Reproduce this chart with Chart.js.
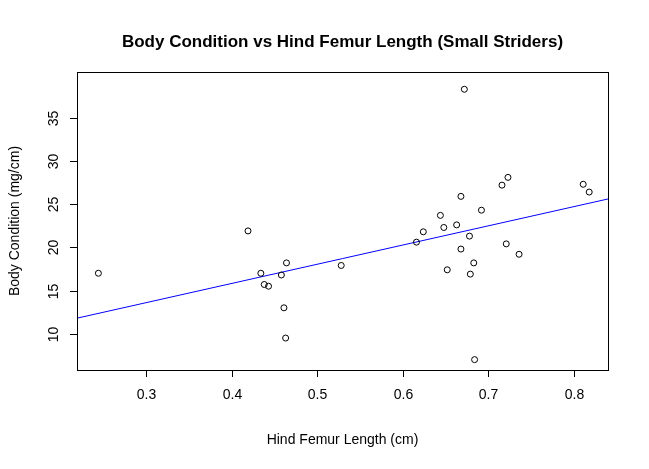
<!DOCTYPE html>
<html>
<head>
<meta charset="utf-8">
<script src="https://cdn.jsdelivr.net/npm/chart.js@4/dist/chart.umd.min.js"></script>
<style>
  html, body { margin: 0; padding: 0; background: #fff; }
  #wrap { width: 649px; height: 469px; }
</style>
</head>
<body>
<div id="wrap"><canvas id="myChart"></canvas></div>
<script>
// femur length (cm) and body condition (mg/cm)
const femurLength = [0.244, 0.419, 0.434, 0.438, 0.443, 0.458, 0.464, 0.461, 0.463, 0.528,
    0.616, 0.624, 0.644, 0.648, 0.652, 0.663, 0.668, 0.668, 0.672, 0.678,
    0.679, 0.683, 0.684, 0.692, 0.716, 0.721, 0.723, 0.736, 0.811, 0.818];
const bodyCondition = [17.0, 21.9, 17.0, 15.7, 15.5, 16.8, 18.2, 13.0, 9.5, 17.9,
    20.6, 21.8, 23.7, 22.3, 17.4, 22.6, 25.9, 19.8, 38.3, 21.3,
    16.9, 18.2, 7.0, 24.3, 27.2, 20.4, 28.1, 19.2, 27.3, 26.4];
const fitX = [0.219, 0.840];
const fitY = [11.8, 25.6];
const xTicks = [0.3, 0.4, 0.5, 0.6, 0.7, 0.8];
const yTicks = [10, 15, 20, 25, 30, 35];

const font = '14px "Liberation Sans", Arial, sans-serif';

// R-style box, ticks and labels drawn on top of the Chart.js scales
const baseGraphics = {
    id: 'baseGraphics',
    afterDraw(chart) {
        const ctx = chart.ctx;
        const a = chart.chartArea;
        const xs = chart.scales.x;
        const ys = chart.scales.y;
        ctx.save();
        ctx.strokeStyle = '#000';
        ctx.lineWidth = 1;
        ctx.strokeRect(a.left + 0.5, a.top + 0.5, a.right - a.left, a.bottom - a.top);
        ctx.fillStyle = '#000';
        ctx.font = font;

        ctx.textAlign = 'center';
        ctx.textBaseline = 'top';
        xTicks.forEach(t => {
            const px = Math.round(xs.getPixelForValue(t)) + 0.5;
            ctx.beginPath();
            ctx.moveTo(px, a.bottom);
            ctx.lineTo(px, a.bottom + 7);
            ctx.stroke();
            ctx.fillText(String(t), px, a.bottom + 18);
        });

        yTicks.forEach(t => {
            const py = Math.round(ys.getPixelForValue(t)) + 0.5;
            ctx.beginPath();
            ctx.moveTo(a.left, py);
            ctx.lineTo(a.left - 7, py);
            ctx.stroke();
            ctx.save();
            ctx.translate(a.left - 20, py);
            ctx.rotate(-Math.PI / 2);
            ctx.textBaseline = 'bottom';
            ctx.fillText(String(t), 0, 4);
            ctx.restore();
        });

        ctx.textBaseline = 'middle';
        ctx.fillText('Hind Femur Length (cm)', (a.left + a.right) / 2, 440);
        ctx.save();
        ctx.translate(15, (a.top + a.bottom) / 2);
        ctx.rotate(-Math.PI / 2);
        ctx.fillText('Body Condition (mg/cm)', 0, 0);
        ctx.restore();

        ctx.font = 'bold 17px "Liberation Sans", Arial, sans-serif';
        ctx.fillText('Body Condition vs Hind Femur Length (Small Striders)', (a.left + a.right) / 2, 42);
        ctx.restore();
    }
};

new Chart(document.getElementById('myChart'), {
    type: 'scatter',
    data: {
        datasets: [{
            data: femurLength.map((x, i) => ({ x: x, y: bodyCondition[i] })),
            borderColor: '#000',
            backgroundColor: 'rgba(0,0,0,0)',
            borderWidth: 1,
            pointRadius: 3,
            order: 1
        }, {
            type: 'line',
            data: fitX.map((x, i) => ({ x: x, y: fitY[i] })),
            borderColor: '#0000ff',
            borderWidth: 1,
            pointRadius: 0,
            fill: false,
            order: 2
        }]
    },
    options: {
        responsive: true,
        maintainAspectRatio: false,
        animation: false,
        layout: { padding: { left: 77, right: 41, top: 72, bottom: 99 } },
        plugins: { legend: { display: false }, tooltip: { enabled: false } },
        scales: {
            x: {
                type: 'linear', min: 0.219, max: 0.840,
                grid: { display: false }, border: { display: false },
                ticks: { display: false },
                afterFit(s) { s.height = 0; }
            },
            y: {
                type: 'linear', min: 5.8, max: 40.3,
                grid: { display: false }, border: { display: false },
                ticks: { display: false },
                afterFit(s) { s.width = 0; }
            }
        }
    },
    plugins: [baseGraphics]
});
</script>
</body>
</html>
